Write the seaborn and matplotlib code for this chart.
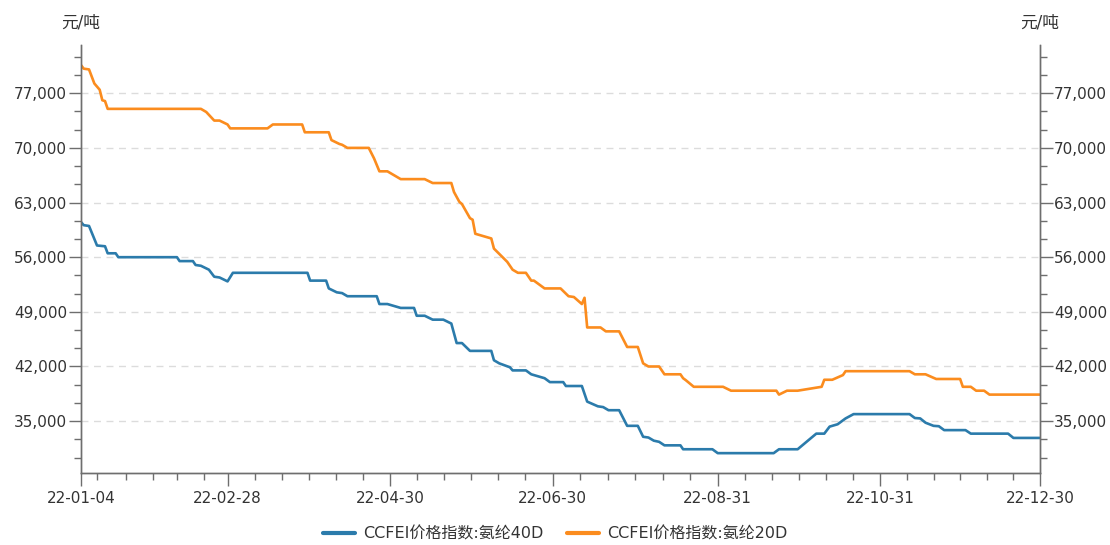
import pandas as pd
import numpy as np
import seaborn as sns
import matplotlib.pyplot as plt
import matplotlib.dates as mdates
from matplotlib.ticker import FuncFormatter, FixedLocator


# CCFEI价格指数:氨纶40D
dates_40d = ['01-04', '01-05', '01-07', '01-10', '01-13', '01-14', '01-17', '01-18', '02-09', '02-10',
             '02-15', '02-16', '02-18', '02-21', '02-23', '02-25', '02-28', '03-02', '03-30', '03-31',
             '04-06', '04-07', '04-10', '04-12', '04-14', '04-25', '04-26', '04-29', '05-04', '05-09',
             '05-10', '05-13', '05-16', '05-20', '05-23', '05-24', '05-25', '05-27', '05-30', '06-07',
             '06-08', '06-10', '06-14', '06-15', '06-20', '06-22', '06-27', '06-29', '07-04', '07-05',
             '07-11', '07-13', '07-17', '07-19', '07-21', '07-25', '07-28', '08-01', '08-03', '08-05',
             '08-07', '08-09', '08-11', '08-17', '08-18', '08-29', '08-31', '09-21', '09-23', '09-30',
             '10-07', '10-10', '10-11', '10-12', '10-15', '10-17', '10-18', '10-21', '11-11', '11-13',
             '11-15', '11-17', '11-20', '11-22', '11-24', '12-02', '12-04', '12-18', '12-20', '12-30']
values_40d = [60500, 60100, 60000, 57500, 57400, 56500, 56500, 56000, 56000, 55500,
              55500, 55000, 54900, 54400, 53500, 53400, 52900, 54000, 54000, 53000,
              53000, 52000, 51500, 51400, 51000, 51000, 50000, 50000, 49500, 49500,
              48500, 48500, 48000, 48000, 47500, 46250, 45000, 45000, 44000, 44000,
              42800, 42400, 41900, 41500, 41500, 41000, 40500, 40000, 40000, 39500,
              39500, 37500, 36900, 36800, 36400, 36400, 34400, 34400, 33000, 32900,
              32500, 32350, 31900, 31900, 31400, 31400, 30900, 30900, 31400, 31400,
              33400, 33400, 33850, 34300, 34600, 35100, 35350, 35900, 35900, 35400,
              35350, 34800, 34400, 34350, 33850, 33850, 33400, 33400, 32850, 32850]

# CCFEI价格指数:氨纶20D
dates_20d = ['01-04', '01-05', '01-07', '01-09', '01-11', '01-12', '01-13', '01-14', '02-18', '02-20',
             '02-23', '02-25', '02-28', '03-01', '03-15', '03-17', '03-28', '03-29', '04-07', '04-08',
             '04-11', '04-12', '04-14', '04-22', '04-24', '04-26', '04-29', '05-04', '05-13', '05-16',
             '05-23', '05-24', '05-26', '05-27', '05-30', '05-31', '06-01', '06-07', '06-08', '06-13',
             '06-15', '06-17', '06-20', '06-22', '06-23', '06-27', '07-03', '07-06', '07-08', '07-11',
             '07-12', '07-13', '07-18', '07-20', '07-25', '07-28', '08-01', '08-03', '08-05', '08-09',
             '08-11', '08-17', '08-18', '08-19', '08-22', '09-02', '09-05', '09-22', '09-23', '09-26',
             '09-30', '10-09', '10-10', '10-13', '10-17', '10-18', '11-11', '11-13', '11-17', '11-21',
             '11-30', '12-01', '12-04', '12-06', '12-09', '12-11', '12-30']
values_20d = [80600, 80150, 80050, 78250, 77450, 76100, 76000, 75000, 75000, 74600,
              73500, 73500, 73000, 72500, 72500, 73000, 73000, 72000, 72000, 71000,
              70500, 70400, 70000, 70000, 68650, 67000, 67000, 66000, 66000, 65500,
              65500, 64350, 63100, 62800, 61000, 60800, 59000, 58400, 57100, 55400,
              54400, 54000, 54000, 53000, 53000, 52000, 52000, 51000, 50900, 50000,
              50800, 47000, 47000, 46500, 46500, 44500, 44500, 42400, 42000, 42000,
              41000, 41000, 40500, 40250, 39400, 39400, 38900, 38900, 38400, 38900,
              38900, 39400, 40300, 40300, 40900, 41400, 41400, 41000, 41000, 40400,
              40400, 39400, 39400, 38900, 38900, 38400, 38400]

label_40d = 'CCFEI价格指数:氨纶40D'
label_20d = 'CCFEI价格指数:氨纶20D'
x_labels = ['2022-01-04', '2022-02-28', '2022-04-30', '2022-06-30', '2022-08-31', '2022-10-31', '2022-12-30']
y_ticks = [35000, 42000, 49000, 56000, 63000, 70000, 77000]

BLUE = '#2b7bab'
ORANGE = '#fb8c1e'
AXIS = '#6e6e6e'
TEXT = '#333333'

df40 = pd.DataFrame({'date': pd.to_datetime(['2022-' + d for d in dates_40d]), 'value': values_40d})
df20 = pd.DataFrame({'date': pd.to_datetime(['2022-' + d for d in dates_20d]), 'value': values_20d})

sns.set_style('white')
plt.rcParams['font.family'] = ['DejaVu Sans', 'Noto Sans CJK SC']

fig = plt.figure(figsize=(11.1, 5.45), dpi=100)
ax = fig.add_axes([0.073, 0.132, 0.864, 0.785])

sns.lineplot(data=df40, x='date', y='value', ax=ax, color=BLUE, linewidth=1.9, label=label_40d)
sns.lineplot(data=df20, x='date', y='value', ax=ax, color=ORANGE, linewidth=1.9, label=label_20d)

ymin, ymax = 28350, 83150
ax.set_ylim(ymin, ymax)
start, end = pd.Timestamp(x_labels[0]), pd.Timestamp(x_labels[-1])
ax.set_xlim(start, end)

# x ticks
major = [mdates.date2num(pd.Timestamp(d)) for d in x_labels]
minor = [mdates.date2num(start) + d for d in [6, 17, 27, 36, 46]]
for a, b in zip(major[1:-1], major[2:]):
    minor += list(np.linspace(a, b, 7)[1:-1])
ax.xaxis.set_major_locator(FixedLocator(major))
ax.xaxis.set_minor_locator(FixedLocator(minor))
ax.xaxis.set_major_formatter(mdates.DateFormatter('%y-%m-%d'))

# y ticks
fmt = FuncFormatter(lambda v, p: f'{int(v):,}')
y_minor = [v for v in np.arange(28000, 84000, 7000 / 3) if v not in y_ticks]
ax.yaxis.set_major_locator(FixedLocator(y_ticks))
ax.yaxis.set_minor_locator(FixedLocator(y_minor))
ax.yaxis.set_major_formatter(fmt)
ax.yaxis.grid(True, linestyle=(0, (5, 4)), color='#dcdcdc', linewidth=1)
ax.xaxis.grid(False)

ax2 = ax.twinx()
ax2.set_ylim(ymin, ymax)
ax2.yaxis.set_major_locator(FixedLocator(y_ticks))
ax2.yaxis.set_minor_locator(FixedLocator(y_minor))
ax2.yaxis.set_major_formatter(fmt)

for a in (ax, ax2):
    a.set_xlabel('')
    a.set_ylabel('')
    a.tick_params(axis='both', which='major', length=9, width=1, color=AXIS,
                  labelcolor=TEXT, labelsize=11, pad=1, direction='out')
    a.tick_params(axis='both', which='minor', length=5, width=1, color=AXIS, direction='out')
    a.spines['top'].set_visible(False)
    for s in ('left', 'right', 'bottom'):
        a.spines[s].set_color(AXIS)
        a.spines[s].set_linewidth(1)
ax.tick_params(axis='x', which='major', pad=4)
ax.tick_params(left=True, which='both')
ax.tick_params(bottom=True, which='both')
ax2.tick_params(right=True, which='both')

ax.text(0, 1.053, '元/吨', transform=ax.transAxes, ha='center', va='center', fontsize=12, color=TEXT)
ax.text(1, 1.053, '元/吨', transform=ax.transAxes, ha='center', va='center', fontsize=12, color=TEXT)

handles, labels = ax.get_legend_handles_labels()
ax.get_legend().remove()
leg = fig.legend(handles, labels, loc='lower center', bbox_to_anchor=(0.5, -0.02), ncol=2,
                 frameon=False, fontsize=11.5, handlelength=2.0, columnspacing=1.5, handletextpad=0.5)
for t in leg.get_texts():
    t.set_color(TEXT)
for h in leg.legend_handles:
    h.set_linewidth(3)

fig.savefig('out.png', dpi=100)
